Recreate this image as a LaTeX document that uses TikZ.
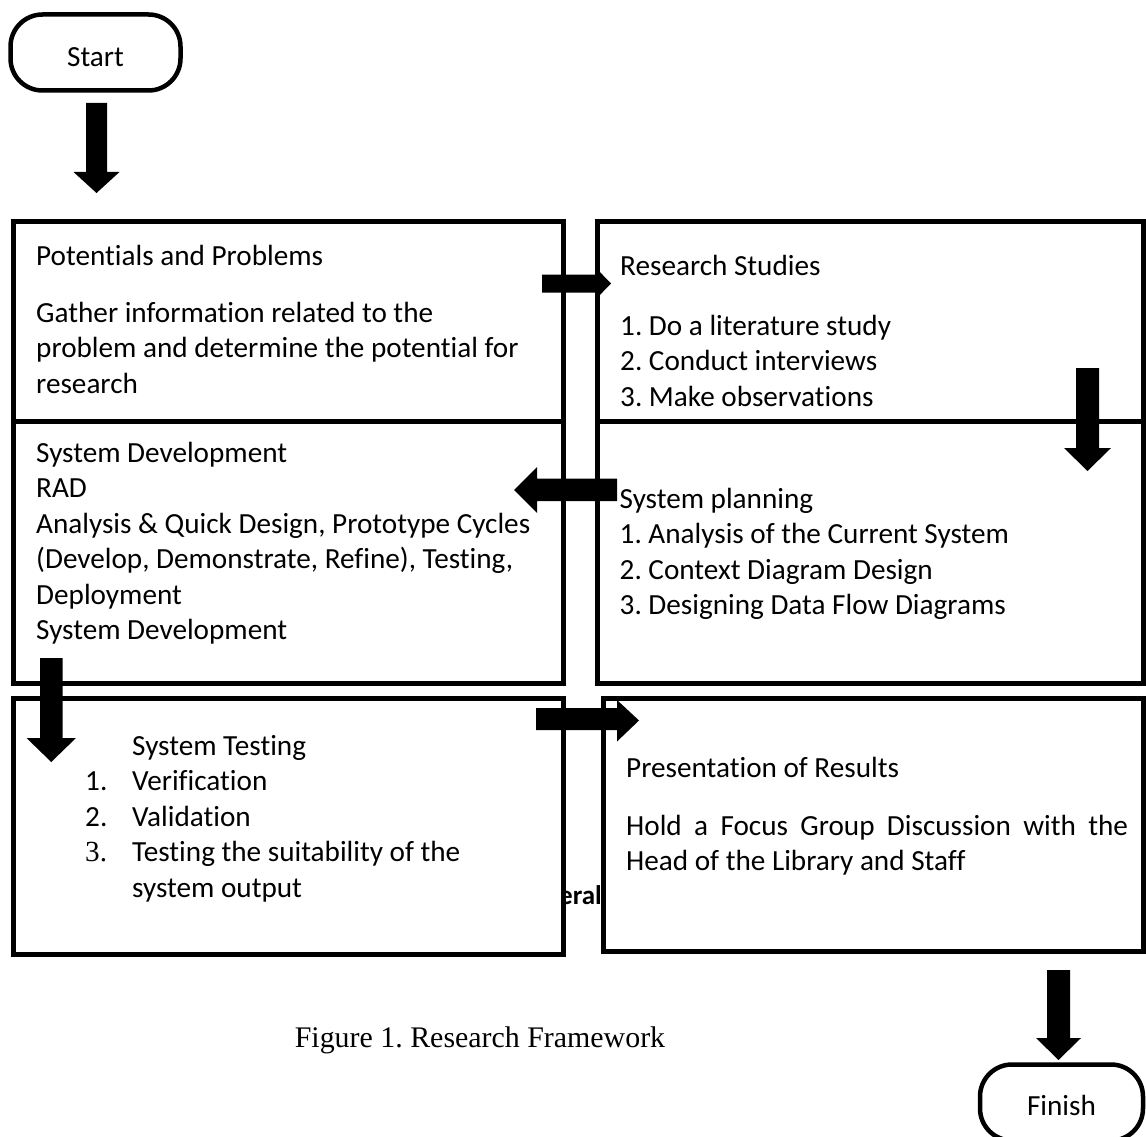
\documentclass[tikz,border=0pt]{standalone}
\usepackage{fontspec}
\setmainfont{Carlito}[Ligatures={NoCommon}]
\newfontfamily\tnr{Liberation Serif}
\frenchspacing
\begin{document}
\frenchspacing
\begin{tikzpicture}[x=1pt,y=-1pt,
  boxstyle/.style={draw, line width=5pt, fill=white, inner sep=0pt, outer sep=0pt},
  termstyle/.style={draw, line width=4.5pt, fill=white, rounded corners=32pt, inner sep=0pt,
     minimum width=#1, minimum height=76pt},
  txt/.style={anchor=base west, inner sep=0pt, font=\fontsize{29.2}{35.5}\selectfont},
  ctxt/.style={anchor=base, inner sep=0pt, font=\fontsize{29.2}{35.5}\selectfont},
  blockarrow/.style={fill=black}]
\useasboundingbox (0,0) rectangle (1146,1137);
\clip (0,0) rectangle (1146,1137);

% terminals
\node[termstyle=170pt] (start) at (95.5,52.5) {};
\node[ctxt] (starttxt) at (95.5,67) {Start};
\node[termstyle=163pt] (finish) at (1061.5,1102.5) {};
\node[ctxt] (finishtxt) at (1061.5,1115) {Finish};

% boxes
\node[boxstyle, minimum width=550pt, minimum height=199.5pt] (b1) at (288.5,321.25) {};
\node[boxstyle, minimum width=546pt, minimum height=199.5pt] (b2) at (870.5,321.25) {};
\node[boxstyle, minimum width=550pt, minimum height=262pt] (b3) at (288.5,552) {};
\node[boxstyle, minimum width=546pt, minimum height=262pt] (b4) at (870.5,552) {};
\node[boxstyle, minimum width=550pt, minimum height=256pt] (b5) at (288.5,826.5) {};
\node[boxstyle, minimum width=540.5pt, minimum height=253pt] (b6) at (873.25,825) {};

% box 1
\node[txt] (t1a) at (36,265) {Potentials and Problems};
\node[txt] (t1b) at (36,322) {Gather information related to the};
\node[txt] (t1c) at (36,357.5) {problem and determine the potential for};
\node[txt] (t1d) at (36,393) {research};
% box 2
\node[txt] (t2a) at (620,275) {Research Studies};
\node[txt] (t2b) at (620,335) {1. Do a literature study};
\node[txt] (t2c) at (620,370.5) {2. Conduct interviews};
\node[txt] (t2d) at (620,406) {3. Make observations};
% box 3
\node[txt] (t3a) at (36,462) {System Development};
\node[txt] (t3b) at (36,497.5) {RAD};
\node[txt] (t3c) at (36,533) {Analysis \& Quick Design, Prototype Cycles};
\node[txt] (t3d) at (36,568.5) {(Develop, Demonstrate, Refine), Testing,};
\node[txt] (t3e) at (36,604) {Deployment};
\node[txt] (t3f) at (36,639.5) {System Development};
% box 4
\node[txt] (t4a) at (619.5,508) {System planning};
\node[txt] (t4b) at (619.5,543.5) {1. Analysis of the Current System};
\node[txt] (t4c) at (619.5,579) {2. Context Diagram Design};
\node[txt] (t4d) at (619.5,614.5) {3. Designing Data Flow Diagrams};
% box 5
\node[txt] (t5a) at (132,755) {System Testing};
\node[txt] (n5b) at (85,790.5) {1.};
\node[txt] (t5b) at (132,790.5) {Verification};
\node[txt] (n5c) at (85,826) {2.};
\node[txt] (t5c) at (132,826) {Validation};
\node[txt, font=\tnr\fontsize{29.2}{35.5}\selectfont] (n5d) at (85,861.5) {3.};
\node[txt] (t5d) at (132,861.5) {Testing the suitability of the};
\node[txt] (t5e) at (132,897) {system output};
% box 6
\node[txt] (t6a) at (626,777) {Presentation of Results};
\node[txt] (t6b) at (626,835) {\makebox[502pt][s]{Hold a Focus Group Discussion with the}};
\node[txt] (t6c) at (626,870) {Head of the Library and Staff};

% fragment between boxes
\begin{scope}
\clip (566,860) rectangle (600.5,940);
\node[txt, font=\bfseries\fontsize{27}{32}\selectfont] (frag) at (559,904) {eral};
\end{scope}

% caption
\node[anchor=base, inner sep=0pt, font=\tnr\fontsize{29.9}{36}\selectfont] (caption) at (480,1047) {Figure 1. Research Framework};

% block arrows
% start -> b1
\fill[blockarrow] (86,103) -- (107,103) -- (107,172) -- (119.5,172) -- (96.5,193) -- (73.5,172) -- (86,172) -- cycle;
% b1 -> b2
\fill[blockarrow] (542,274.5) -- (595,274.5) -- (595,267) -- (611,283.5) -- (595,300) -- (595,292.5) -- (542,292.5) -- cycle;
% b2 -> b4
\fill[blockarrow] (1076,368) -- (1099,368) -- (1099,448) -- (1111,448) -- (1087.5,471) -- (1064,448) -- (1076,448) -- cycle;
% b4 -> b3
\fill[blockarrow] (617,478.5) -- (537,478.5) -- (537,467) -- (514,490) -- (537,513) -- (537,501) -- (617,501) -- cycle;
% b3 -> b5
\fill[blockarrow] (40,658) -- (62.5,658) -- (62.5,738) -- (76,738) -- (51.25,762) -- (26.5,738) -- (40,738) -- cycle;
% b5 -> b6
\fill[blockarrow] (536,708) -- (617,708) -- (617,700) -- (639,720.5) -- (617,741.5) -- (617,730) -- (536,730) -- cycle;
% b6 -> finish
\fill[blockarrow] (1047,970) -- (1070,970) -- (1070,1038) -- (1081,1038) -- (1058.5,1060) -- (1036,1038) -- (1047,1038) -- cycle;
\end{tikzpicture}
\end{document}
